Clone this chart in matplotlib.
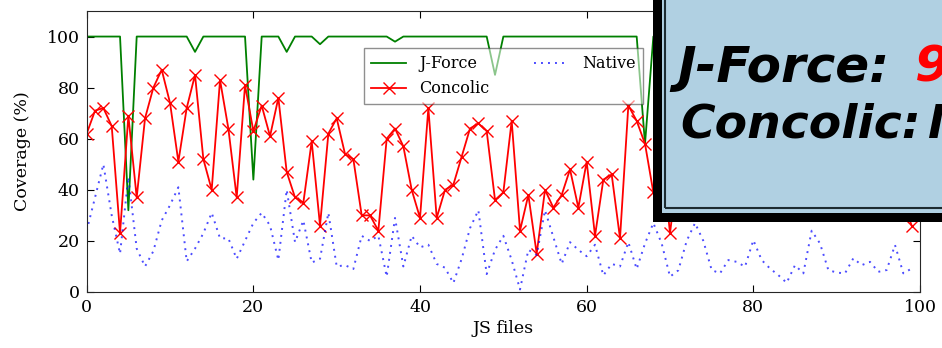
import matplotlib
matplotlib.use("Agg")
import matplotlib.pyplot as plt
from matplotlib.patches import Rectangle
import numpy as np

# coverage (%) per JS file
jforce = [100, 100, 100, 100, 100, 32, 100, 100, 100, 100,
          100, 100, 100, 94, 100, 100, 100, 100, 100, 100,
          44, 100, 100, 100, 94, 100, 100, 100, 97, 100,
          100, 100, 100, 100, 100, 100, 100, 98, 100, 100,
          100, 100, 100, 100, 100, 100, 100, 100, 100, 85,
          100, 100, 100, 100, 100, 100, 100, 100, 100, 100,
          100, 100, 100, 100, 100, 100, 100, 58, 100, 100,
          100, 100, 100, 100, 100, 100, 100, 100, 100, 100,
          100, 100, 100, 100, 100, 100, 100, 100, 100, 100,
          100, 100, 100, 100, 100, 100, 100, 100, 100, 100]

concolic = [62, 71, 72, 65, 23, 69, 37, 68, 80, 87,
            74, 51, 72, 85, 52, 40, 83, 64, 37, 81,
            63, 73, 61, 76, 47, 37, 35, 59, 26, 62,
            68, 54, 52, 30, 30, 24, 60, 64, 57, 40,
            29, 72, 29, 40, 42, 53, 64, 66, 63, 36,
            39, 67, 24, 38, 15, 40, 33, 38, 48, 33,
            51, 22, 44, 46, 21, 73, 67, 58, 39, 55,
            23, 50, 62, 45, 74, 40, 58, 80, 44, 66,
            36, 70, 52, 84, 41, 63, 48, 72, 37, 59,
            67, 45, 78, 53, 41, 69, 47, 61, 35, 26]

native = [24, 37, 50, 30, 15, 45, 17, 10, 16, 28,
          34, 41, 12, 17, 23, 31, 21, 21, 13, 20,
          27, 31, 26, 12.5, 40, 19.5, 28, 11.5, 13, 31,
          10, 10.5, 9, 22, 20, 22, 6, 29, 10, 22,
          17.5, 18.5, 11, 9.5, 3.5, 13, 25, 32, 7, 16.5,
          22, 12.5, 1, 16.5, 14.5, 32, 21.5, 11, 19.5, 16.5,
          14, 18.5, 6.5, 11, 10, 19.5, 9, 19, 27, 19,
          6, 8.5, 20, 27, 20, 8.6, 7.3, 12.5, 11.8, 9.9,
          20.3, 12.5, 9.2, 6.6, 3.6, 10.5, 7.3, 24, 19, 8.6,
          7.6, 7.3, 13.2, 10.5, 11.8, 7.9, 8.6, 18.4, 7.3, 9.2]

files = np.arange(len(concolic))

plt.rcParams['font.family'] = 'serif'
plt.rcParams['font.serif'] = ['DejaVu Serif']

W, H = 942, 348
fig = plt.figure(figsize=(W / 100, H / 100), dpi=100)
ax = fig.add_axes([86.7 / W, 1 - 292 / H, (920 - 86.7) / W, (292 - 11) / H])

ax.plot(files, jforce, color='g', lw=1.3, label='J-Force')
ax.plot(files, concolic, color='r', lw=1.3, marker='x', ms=8, mew=1.0, label='Concolic')
ax.plot(files, native, color='b', lw=1.4, ls=(0, (1, 2.6)), alpha=0.7, label='Native')

ax.set_xlim(0, 100)
ax.set_ylim(0, 110)
ax.set_xticks(range(0, 101, 20))
ax.set_yticks(range(0, 101, 20))
ax.tick_params(direction='in', top=True, right=True, length=5, labelsize=12.5, pad=5)
for s in ax.spines.values():
    s.set_color('0.15')
ax.set_xlabel('JS files', fontsize=12.5, labelpad=3)
ax.set_ylabel('Coverage (%)', fontsize=12.5, labelpad=11)

leg = ax.legend(loc='upper center', bbox_to_anchor=(0.5, 0.868), ncol=2,
                fontsize=11.5, fancybox=False, framealpha=0.55,
                handlelength=2.2, columnspacing=2.8, borderpad=0.45,
                labelspacing=0.5, borderaxespad=0)
leg.get_frame().set_edgecolor('0.2')

# overlay box pasted on top of the chart
def fx(px):
    return px / W

def fy(py):
    return 1 - py / H

fig.patches.append(Rectangle((fx(653), fy(221.5)), fx(400), fy(-50) - fy(221.5),
                             transform=fig.transFigure, facecolor='black',
                             edgecolor='none', zorder=10))
fig.patches.append(Rectangle((fx(661.5), fy(213)), fx(400), fy(-50) - fy(213),
                             transform=fig.transFigure, facecolor='#b0d0e2',
                             edgecolor='none', zorder=11))
fig.patches.append(Rectangle((fx(665), fy(208)), fx(400), fy(-50) - fy(208),
                             transform=fig.transFigure, facecolor='none',
                             edgecolor='#1c2a30', lw=1.5, zorder=12))

box_font = dict(family='DejaVu Sans', weight='bold', style='italic',
                va='baseline', ha='left', zorder=13)
fig.text(fx(677), fy(81.5), 'J-Force: ', color='black', fontsize=36, **box_font)
fig.text(fx(915), fy(81.5), '9', color='red', fontsize=36, **box_font)
fig.text(fx(680), fy(138), 'Concolic:', color='black', fontsize=34, **box_font)
fig.text(fx(928), fy(138), 'N', color='black', fontsize=34, **box_font)

fig.savefig('out.png', dpi=100)
